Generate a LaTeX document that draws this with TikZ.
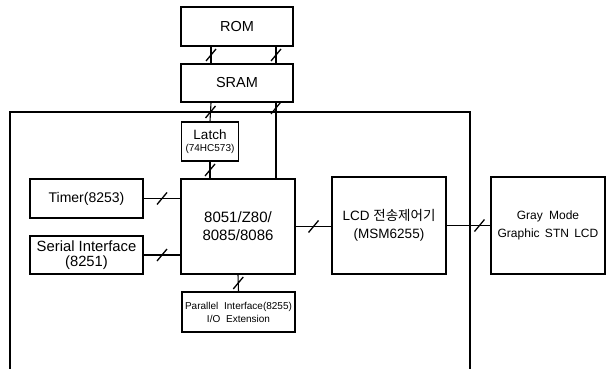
\documentclass[tikz,border=0pt]{standalone}
\usepackage{fontspec}
\setmainfont{Liberation Sans}
\newfontfamily\kr{Noto Sans CJK KR}
\tikzset{
  box/.style={draw, line width=1.1pt, inner sep=0pt, align=center, font=\fontsize{14}{16}\selectfont},
  conn/.style={line width=1.1pt},
  busmark/.pic={\draw[line width=1.3pt] (-5,6) -- (5,-6);}
}
\begin{document}
\begin{tikzpicture}[x=1pt,y=-1pt]
\useasboundingbox (0,0) rectangle (608,369);
% frame
\draw[conn] (10,369) -- (10,112) -- (470,112) -- (470,369);
% nodes
\node[box, minimum width=112pt, minimum height=39pt, font=\fontsize{14.5}{16}\selectfont] (rom) at (237,26.5) {ROM};
\node[box, minimum width=112pt, minimum height=38pt, font=\fontsize{14.5}{16}\selectfont] (sram) at (237,83) {SRAM};
\node[box, minimum width=57pt, minimum height=39pt, font=\fontsize{13.5}{13}\selectfont] (latch) at (210,141.5) {Latch\\[-1pt]{\fontsize{10}{11}\selectfont(74HC573)}};
\node[box, minimum width=114pt, minimum height=95pt, font=\fontsize{15}{18}\selectfont] (cpu) at (238,226.5) {8051/Z80/\\8085/8086};
\node[box, minimum width=113pt, minimum height=39pt] (timer) at (86.5,198.5) {Timer(8253)};
\node[box, minimum width=113pt, minimum height=38pt, font=\fontsize{14.8}{15}\selectfont] (serial) at (86.5,255) {Serial Interface\\(8251)};
\node[box, minimum width=113pt, minimum height=40pt, font=\fontsize{10}{13}\selectfont] (par) at (238.5,312) {Parallel\hspace{3pt} Interface(8255)\\I/O\hspace{3pt} Extension};
\node[box, minimum width=114pt, minimum height=97pt, font=\fontsize{13.5}{18}\selectfont] (lcd) at (389,225.5) {LCD {\kr 전송제어기}\\(MSM6255)};
\node[box, minimum width=114pt, minimum height=97pt, font=\fontsize{12}{18}\selectfont] (gray) at (548,225.5) {Gray\hspace{3pt} Mode\\Graphic\hspace{2pt} STN\hspace{2pt} LCD};
% connectors
\draw[conn] ([xshift=-26pt]rom.south) -- ([xshift=-26pt]sram.north) pic[pos=0.5]{busmark};
\draw[conn] ([xshift=39pt]rom.south) -- ([xshift=39pt]sram.north) pic[pos=0.5]{busmark};
\draw[conn] ([xshift=-26pt]sram.south) -- (latch.north) pic[pos=0.5]{busmark};
\draw[conn] ([xshift=39pt]sram.south) -- ([xshift=39pt]sram.south |- cpu.north) pic[pos=0.07]{busmark};
\draw[conn] (latch.south) -- (latch.south |- cpu.north) pic[pos=0.5]{busmark};
\draw[conn] (timer.east) -- (timer.east -| cpu.west) pic[pos=0.5]{busmark};
\draw[conn] (serial.east) -- (serial.east -| cpu.west) pic[pos=0.5]{busmark};
\draw[conn] (cpu.south) -- (par.north) pic[pos=0.5]{busmark};
\draw[conn] (cpu.east) -- (cpu.east -| lcd.west) pic[pos=0.5]{busmark};
\draw[conn] (lcd.east) -- (lcd.east -| gray.west) pic[pos=0.75]{busmark};
\end{tikzpicture}
\end{document}
